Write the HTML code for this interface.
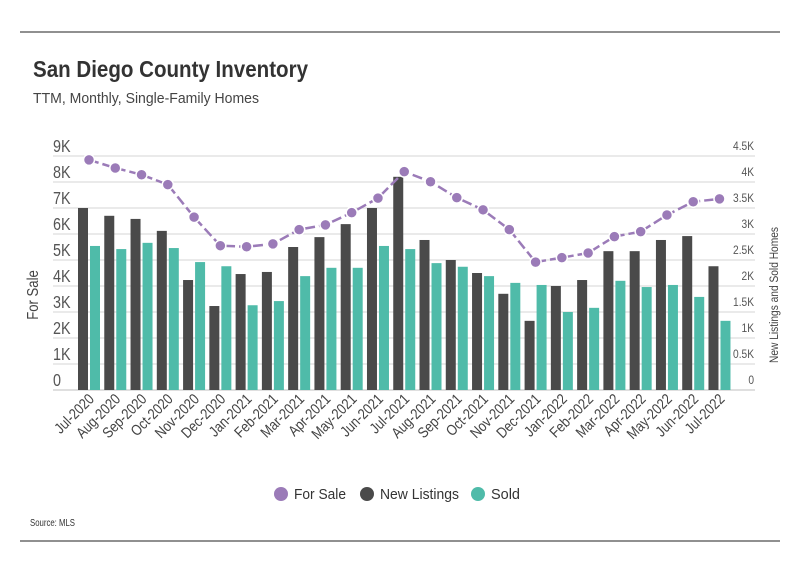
<!DOCTYPE html>
<html><head><meta charset="utf-8"><style>
body{margin:0;background:#fff;font-family:"Liberation Sans Narrow","Liberation Sans",sans-serif;}
#wrap{position:relative;width:800px;height:575px;overflow:hidden;}
</style></head><body>
<div id="wrap">
<svg id="chart" width="800" height="575">
<line x1="20" y1="32" x2="780" y2="32" stroke="#222" stroke-width="1"/>
<line x1="20" y1="541" x2="780" y2="541" stroke="#222" stroke-width="1"/>
<text x="33" y="77" font-size="23" font-weight="bold" fill="#333" textLength="275" lengthAdjust="spacingAndGlyphs">San Diego County Inventory</text>
<text x="33" y="103" font-size="15" fill="#444" textLength="226" lengthAdjust="spacingAndGlyphs">TTM, Monthly, Single-Family Homes</text>
<text transform="translate(38,295) rotate(-90) scale(0.82,1)" text-anchor="middle" font-size="16" fill="#444">For Sale</text>
<text transform="translate(778,295) rotate(-90) scale(0.85,1)" text-anchor="middle" font-size="12" fill="#444">New Listings and Sold Homes</text>
<g id="grid"></g><g id="bars"></g><g id="line"></g><g id="xlabels"></g>
<g font-size="15" fill="#333">
<g><circle cx="281" cy="494" r="7" fill="#9b7bb8"/><text x="294" y="499" textLength="52" lengthAdjust="spacingAndGlyphs">For Sale</text></g>
<g><circle cx="367" cy="494" r="7" fill="#4a4a4a"/><text x="380" y="499" textLength="79" lengthAdjust="spacingAndGlyphs">New Listings</text></g>
<g><circle cx="478" cy="494" r="7" fill="#4fbba9"/><text x="491" y="499" textLength="29" lengthAdjust="spacingAndGlyphs">Sold</text></g>
</g>
<text x="30" y="526" font-size="10" fill="#333" textLength="45" lengthAdjust="spacingAndGlyphs">Source:  MLS</text>
</svg></div>
<script>
const categories=["Jul-2020","Aug-2020","Sep-2020","Oct-2020","Nov-2020","Dec-2020","Jan-2021","Feb-2021","Mar-2021","Apr-2021","May-2021","Jun-2021","Jul-2021","Aug-2021","Sep-2021","Oct-2021","Nov-2021","Dec-2021","Jan-2022","Feb-2022","Mar-2022","Apr-2022","May-2022","Jun-2022","Jul-2022"];
const forSale=[8850,8540,8280,7900,6650,5550,5510,5620,6170,6350,6820,7380,8400,8010,7400,6930,6170,4920,5090,5270,5900,6090,6730,7240,7350];
const newListings=[3500,3350,3290,3060,2115,1615,2230,2270,2750,2940,3190,3500,4100,2885,2500,2250,1850,1330,2000,2115,2670,2670,2885,2960,2380];
const sold=[2770,2710,2830,2730,2460,2380,1630,1710,2190,2350,2350,2770,2710,2440,2370,2190,2060,2020,1500,1580,2100,1980,2020,1790,1330];
const leftTicks=["0","1K","2K","3K","4K","5K","6K","7K","8K","9K"];
const rightTicks=["0","0.5K","1K","1.5K","2K","2.5K","3K","3.5K","4K","4.5K"];
const NS="http://www.w3.org/2000/svg";
const base=390,top0=156;
const yL=v=>base-(base-top0)*v/9000;
const yR=v=>base-(base-top0)*v/4500;
const xC=i=>89+i*26.27;
function mk(t,a,p){const e=document.createElementNS(NS,t);for(const k in a)e.setAttribute(k,a[k]);p.appendChild(e);return e;}
const grid=document.getElementById('grid');
for(let i=0;i<leftTicks.length;i++){
  const y=base-(base-top0)*i/9;
  const gl=mk('line',{x1:53,x2:755,y1:y,y2:y,stroke:i==0?'#ccc':'#ddd','stroke-width':1.3},grid);
  
  
  const lt=mk('text',{transform:`translate(53,${y-4}) scale(0.8,1)`,'font-size':18,fill:'#555'},grid);lt.textContent=leftTicks[i];
  
  
  const rt=mk('text',{transform:`translate(754,${y-6}) scale(0.85,1)`,'font-size':12,fill:'#555','text-anchor':'end'},grid);rt.textContent=rightTicks[i];
  
  
}
const bars=document.getElementById('bars'),xl=document.getElementById('xlabels');
categories.forEach((c,i)=>{
  const x=xC(i);
  const b1=mk('rect',{x:x-11,y:yR(newListings[i]),width:10,height:base-yR(newListings[i]),fill:'#4a4a4a'},bars);
  
  
  const b2=mk('rect',{x:x+1,y:yR(sold[i]),width:10,height:base-yR(sold[i]),fill:'#4fbba9'},bars);
  
  
  const t=mk('text',{transform:`translate(${x+6},${base+10}) rotate(-45) scale(0.85,1)`,'text-anchor':'end','font-size':15,fill:'#444'},xl);
  t.textContent=c;
  
  
});
const lg=document.getElementById('line');
const pl=mk('polyline',{points:forSale.map((v,i)=>xC(i)+','+yL(v)).join(' '),fill:'none',stroke:'#9b7bb8','stroke-width':2.5,'stroke-dasharray':'10,4'},lg);


forSale.forEach((v,i)=>{
  const p=mk('circle',{cx:xC(i),cy:yL(v),r:5.5,fill:'#9b7bb8',stroke:'#fff','stroke-width':1.5},lg);
  
  
});
</script>
</body></html>
